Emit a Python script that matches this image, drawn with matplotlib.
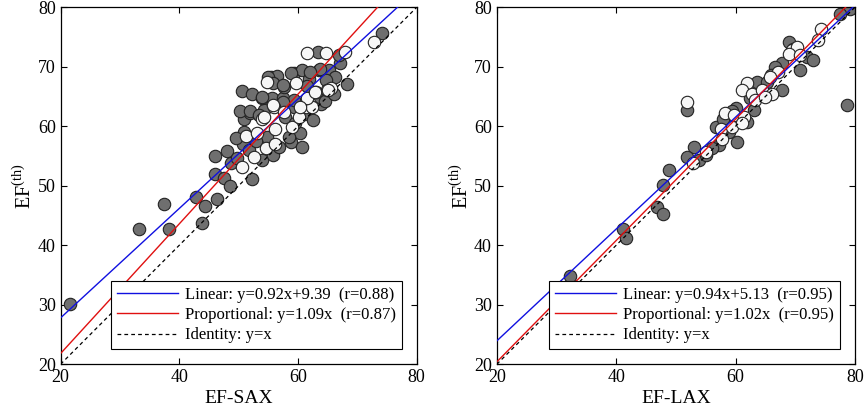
import numpy as np
import matplotlib
matplotlib.use("Agg")
import matplotlib.pyplot as plt

plt.rcParams['font.family'] = ['Liberation Serif', 'DejaVu Serif']
plt.rcParams['mathtext.fontset'] = 'custom'
plt.rcParams['mathtext.rm'] = 'Liberation Serif'

# left panel: EF-SAX vs EF(th)
sax_gray_x = [21.6, 33.3, 37.5, 38.2, 42.8, 44.4, 43.8, 46.4, 46.0, 47.6, 46.1, 48.1, 48.7,
              52.2, 50.7, 54.0, 55.8, 58.8, 60.6, 60.3, 50.9, 54.8, 58.5, 50.9, 52.0, 54.3,
              59.3, 63.8, 50.6, 52.3, 54.0, 55.7, 57.4, 59.3, 68.3, 55.4, 56.5, 57.6, 59.3,
              60.7, 61.9, 63.5, 65.2, 66.3, 67.1, 66.9, 63.3, 74.2, 63.7, 62.0, 64.8, 58.9,
              55.0, 55.8, 57.5, 61.5, 63.7, 53.9, 57.5, 50.2, 51.9, 53.5, 57.8, 61.0, 64.5,
              49.5, 51.8, 53.0, 56.8, 59.5, 62.5, 48.5, 49.8, 66.0]
sax_gray_y = [30.1, 42.7, 47.0, 42.7, 48.1, 46.6, 43.8, 47.8, 52.0, 51.3, 55.0, 55.9, 53.8,
              51.1, 57.0, 54.3, 55.2, 57.4, 56.6, 58.8, 59.1, 58.2, 58.2, 61.3, 62.2, 62.7,
              63.3, 63.8, 66.0, 65.5, 64.7, 64.7, 64.7, 64.4, 67.1, 68.3, 68.4, 66.6, 68.9,
              69.5, 67.9, 69.4, 69.4, 68.3, 70.6, 72.0, 72.5, 75.7, 69.7, 69.2, 67.8, 68.9,
              68.3, 67.2, 66.9, 66.7, 65.0, 65.0, 64.1, 62.5, 62.5, 61.9, 61.6, 62.0, 64.2,
              58.0, 56.0, 57.5, 56.5, 60.5, 61.0, 50.0, 54.6, 65.5]
sax_white_x = [50.6, 52.6, 54.7, 56.2, 51.2, 53.1, 56.2, 59.0, 54.0, 56.0, 57.6, 60.2, 61.3,
               62.4, 61.6, 63.0, 64.9, 65.5, 54.8, 59.6, 61.6, 64.7, 68.0, 72.8, 55.8, 54.2,
               62.9, 65.1, 60.3]
sax_white_y = [53.2, 54.9, 56.3, 57.1, 58.3, 58.8, 59.6, 59.9, 61.3, 63.3, 62.4, 61.5, 63.3,
               63.3, 64.7, 65.8, 66.1, 66.4, 67.5, 67.2, 72.3, 72.3, 72.5, 74.2, 63.6, 61.6,
               65.8, 66.1, 63.3]

# right panel: EF-LAX vs EF(th)
lax_gray_x = [79.2, 77.5, 68.9, 71.9, 73.0, 70.8, 67.8, 66.7, 63.6, 65.3, 67.8, 51.9, 78.6,
              60.0, 63.1, 61.9, 56.7, 58.9, 57.2, 60.3, 56.1, 53.1, 51.9, 53.9, 48.9, 47.9,
              46.9, 47.9, 41.1, 41.7, 32.3, 57.9, 59.4, 62.5, 66.0, 55.0, 69.6]
lax_gray_y = [79.8, 78.8, 74.2, 71.6, 71.1, 69.4, 70.6, 70.0, 67.5, 67.5, 66.1, 62.7, 63.6,
              63.0, 62.7, 60.8, 59.9, 59.1, 56.8, 57.4, 56.3, 56.6, 54.9, 54.3, 52.6, 50.1,
              46.5, 45.3, 42.8, 41.3, 34.8, 61.2, 62.6, 64.8, 68.6, 55.2, 73.0]
lax_white_x = [74.4, 73.9, 69.4, 70.3, 68.9, 70.8, 67.2, 65.8, 61.9, 61.1, 62.8, 64.4, 66.1,
               63.3, 65.0, 51.9, 58.3, 59.7, 61.4, 57.5, 59.4, 61.1, 57.8, 55.0, 52.8]
lax_white_y = [76.4, 74.5, 72.8, 73.4, 72.2, 72.0, 69.2, 68.3, 67.2, 66.1, 65.5, 66.1, 65.5,
               64.4, 64.9, 64.1, 62.2, 61.9, 61.6, 59.6, 59.9, 60.5, 57.9, 55.7, 53.8]

# fits: (slope, intercept, r)
sax_linear = (0.92, 9.39, 0.88)
sax_prop = (1.09, 0.87)
lax_linear = (0.94, 5.13, 0.95)
lax_prop = (1.02, 0.95)

GRAY = '#6f6f6f'
WHITE = '#f6f6f6'


def panel(ax, gx, gy, wx, wy, lin, prop, xlabel):
    ax.scatter(gx, gy, s=80, c=GRAY, edgecolors='#222222', linewidths=0.8, zorder=2)
    ax.scatter(wx, wy, s=80, c=WHITE, edgecolors='#222222', linewidths=0.8, zorder=3)
    xs = np.array([20, 80])
    ax.plot(xs, lin[0] * xs + lin[1], color='#1010e0', lw=1.0, zorder=4,
            label='Linear: y=%.2fx+%.2f  (r=%.2f)' % lin)
    ax.plot(xs, prop[0] * xs, color='#e01010', lw=1.0, zorder=4,
            label='Proportional: y=%.2fx  (r=%.2f)' % prop)
    ax.plot(xs, xs, color='black', lw=0.9, ls=(0, (3, 2.5)), zorder=4,
            label='Identity: y=x')
    ax.set_xlim(20, 80)
    ax.set_ylim(20, 80)
    ax.set_xticks([20, 40, 60, 80])
    ax.set_yticks([20, 30, 40, 50, 60, 70, 80])
    ax.tick_params(direction='in', top=True, right=True, labelsize=13, length=4, width=0.8)
    for s in ax.spines.values():
        s.set_linewidth(0.9)
    ax.set_xlabel(xlabel, fontsize=14, labelpad=3)
    ax.set_ylabel(r'EF$^{\mathrm{(th)}}$', fontsize=14.5, labelpad=1)
    leg = ax.legend(loc='lower right', fontsize=12, handlelength=3.7, handletextpad=0.4,
                    labelspacing=0.25, borderpad=0.35, borderaxespad=0.9,
                    fancybox=False, edgecolor='black', framealpha=1)
    leg.get_frame().set_linewidth(0.8)
    leg.set_zorder(10)


fig = plt.figure(figsize=(8.67, 4.18), dpi=100)
ax1 = fig.add_axes([0.0698, 0.1285, 0.4108, 0.854])
ax2 = fig.add_axes([0.573, 0.1285, 0.413, 0.854])
panel(ax1, sax_gray_x, sax_gray_y, sax_white_x, sax_white_y, sax_linear, sax_prop, 'EF-SAX')
panel(ax2, lax_gray_x, lax_gray_y, lax_white_x, lax_white_y, lax_linear, lax_prop, 'EF-LAX')

fig.savefig('out.png', dpi=100)
